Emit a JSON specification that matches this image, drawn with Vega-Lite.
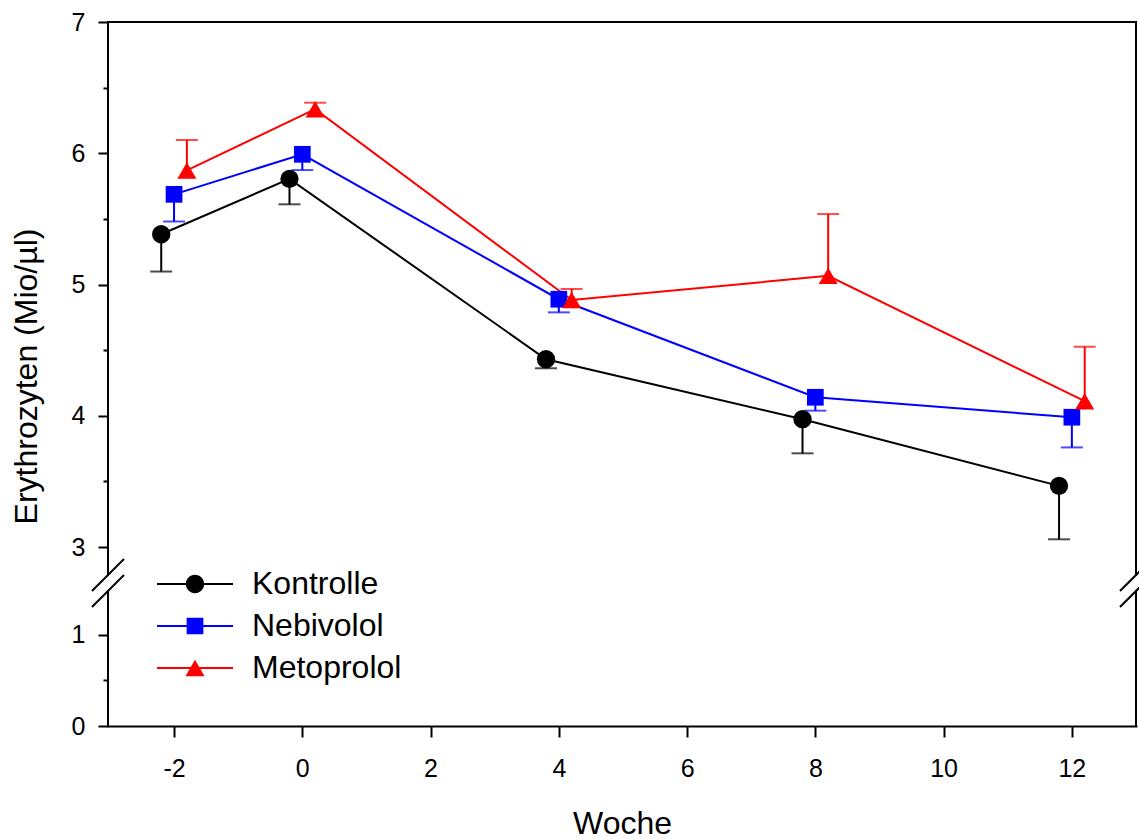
{
  "$schema": "https://vega.github.io/schema/vega-lite/v6.json",
  "width": 1028,
  "height": 704,
  "autosize": {"type": "none"},
  "padding": {"left": 108, "top": 22, "right": 3, "bottom": 113},
  "background": "white",
  "config": {
    "view": {"stroke": null},
    "font": "Liberation Sans",
    "axis": {"grid": false}
  },
  "data": {
    "values": [
      {"series": "Kontrolle", "x": -2.2, "value": 5.383, "bar_end": 5.099},
      {"series": "Kontrolle", "x": -0.2, "value": 5.805, "bar_end": 5.611},
      {"series": "Kontrolle", "x": 3.8, "value": 4.431, "bar_end": 4.362},
      {"series": "Kontrolle", "x": 7.8, "value": 3.974, "bar_end": 3.714},
      {"series": "Kontrolle", "x": 11.8, "value": 3.466, "bar_end": 3.059},
      {"series": "Nebivolol", "x": -2, "value": 5.687, "bar_end": 5.48},
      {"series": "Nebivolol", "x": 0, "value": 5.992, "bar_end": 5.872},
      {"series": "Nebivolol", "x": 4, "value": 4.888, "bar_end": 4.788},
      {"series": "Nebivolol", "x": 8, "value": 4.141, "bar_end": 4.039},
      {"series": "Nebivolol", "x": 12, "value": 3.989, "bar_end": 3.759},
      {"series": "Metoprolol", "x": -1.8, "value": 5.869, "bar_end": 6.101},
      {"series": "Metoprolol", "x": 0.2, "value": 6.336, "bar_end": 6.385},
      {"series": "Metoprolol", "x": 4.2, "value": 4.882, "bar_end": 4.966},
      {"series": "Metoprolol", "x": 8.2, "value": 5.066, "bar_end": 5.537},
      {"series": "Metoprolol", "x": 12.2, "value": 4.111, "bar_end": 4.526}
    ]
  },
  "layer": [
    {
      "mark": {"type": "point", "filled": true, "size": 5776, "clip": true, "opacity": 1},
      "encoding": {
        "x": {"field": "x", "type": "quantitative"},
        "y": {"datum": -100},
        "color": {
          "field": "series", "type": "nominal",
          "scale": {"domain": ["Kontrolle", "Nebivolol", "Metoprolol"], "range": ["#000000", "#0000ff", "#ff0000"]},
          "legend": {
            "orient": "none", "legendX": 49, "legendY": 541, "title": null,
            "symbolSize": 5776, "symbolStrokeWidth": 0, "symbolOpacity": 1,
            "labelFontSize": 32, "labelFont": "Liberation Sans", "labelColor": "black",
            "labelOffset": 19, "rowPadding": 0, "clipHeight": 42, "labelLimit": 0, "padding": 0
          }
        },
        "shape": {
          "field": "series", "type": "nominal",
          "scale": {
            "domain": ["Kontrolle", "Nebivolol", "Metoprolol"],
            "range": [
              "M-1,-0.0263H1V0.0263H-1Z M0.2408,0A0.2408,0.2408,0,1,1,-0.2408,0A0.2408,0.2408,0,1,1,0.2408,0Z",
              "M-1,-0.0263H1V0.0263H-1Z M-0.22,-0.22H0.22V0.22H-0.22Z",
              "M-1,-0.0263H1V0.0263H-1Z M0,-0.216L0.25,0.216L-0.25,0.216Z"
            ]
          },
          "legend": {
            "orient": "none", "legendX": 49, "legendY": 541, "title": null,
            "symbolSize": 5776, "symbolStrokeWidth": 0, "symbolOpacity": 1,
            "labelFontSize": 32, "labelFont": "Liberation Sans", "labelColor": "black",
            "labelOffset": 19, "rowPadding": 0, "clipHeight": 42, "labelLimit": 0, "padding": 0
          }
        }
      }
    },
    {
      "mark": {"type": "line", "strokeWidth": 2},
      "encoding": {
        "x": {
          "field": "x", "type": "quantitative",
          "scale": {"domain": [-3.03, 13], "nice": false, "zero": false},
          "axis": {
            "orient": "bottom",
            "values": [-2, 0, 2, 4, 6, 8, 10, 12],
            "labelExpr": "'' + datum.value",
            "domain": true, "domainColor": "black", "domainWidth": 2, "domainCap": "square",
            "ticks": true, "tickSize": 11, "tickWidth": 2, "tickColor": "black",
            "labelFontSize": 25, "labelColor": "black", "labelPadding": 19, "labelFont": "Liberation Sans",
            "title": "Woche", "titleFontSize": 32, "titleFontWeight": "normal", "titleColor": "black",
            "titleFont": "Liberation Sans", "titleY": 107, "titleBaseline": "alphabetic"
          }
        },
        "y": {
          "field": "value", "type": "quantitative",
          "scale": {"domain": [0, 1.4835, 2.787, 7], "range": [704, 569, 553, 0], "nice": false, "zero": false},
          "axis": {
            "orient": "left",
            "values": [0, 0.5, 1, 3, 3.5, 4, 4.5, 5, 5.5, 6, 6.5, 7],
            "labelExpr": "datum.value % 1 === 0 ? '' + datum.value : ''",
            "domain": false,
            "ticks": true,
            "tickSize": {"condition": {"test": "datum.value % 1 !== 0", "value": 5}, "value": 10},
            "tickWidth": 2, "tickColor": "black",
            "labelFontSize": 25, "labelColor": "black", "labelPadding": 13, "labelFont": "Liberation Sans",
            "title": "Erythrozyten (Mio/µl)", "titleFontSize": 32, "titleFontWeight": "normal",
            "titleColor": "black", "titleFont": "Liberation Sans",
            "titleX": -72, "titleY": 354, "titleBaseline": "alphabetic", "titleAngle": 270
          }
        },
        "color": {"field": "series", "type": "nominal", "legend": null}
      }
    },
    {
      "mark": {"type": "rule", "strokeWidth": 2},
      "encoding": {
        "x": {"field": "x", "type": "quantitative"},
        "y": {"field": "value", "type": "quantitative"},
        "y2": {"field": "bar_end"},
        "color": {"field": "series", "type": "nominal", "legend": null}
      }
    },
    {
      "mark": {"type": "tick", "orient": "horizontal", "size": 22, "thickness": 2},
      "encoding": {
        "x": {"field": "x", "type": "quantitative"},
        "y": {"field": "bar_end", "type": "quantitative"},
        "color": {"field": "series", "type": "nominal", "legend": null}
      }
    },
    {
      "transform": [{"filter": "datum.series === 'Kontrolle'"}],
      "mark": {"type": "point", "filled": true, "shape": "circle", "size": 335, "opacity": 1},
      "encoding": {
        "x": {"field": "x", "type": "quantitative"},
        "y": {"field": "value", "type": "quantitative"},
        "color": {"field": "series", "type": "nominal", "legend": null}
      }
    },
    {
      "transform": [{"filter": "datum.series === 'Nebivolol'"}],
      "mark": {"type": "point", "filled": true, "shape": "square", "size": 279, "opacity": 1},
      "encoding": {
        "x": {"field": "x", "type": "quantitative"},
        "y": {"field": "value", "type": "quantitative"},
        "color": {"field": "series", "type": "nominal", "legend": null}
      }
    },
    {
      "transform": [{"filter": "datum.series === 'Metoprolol'"}],
      "mark": {"type": "point", "filled": true, "shape": "triangle-up", "size": 361, "opacity": 1},
      "encoding": {
        "x": {"field": "x", "type": "quantitative"},
        "y": {"field": "value", "type": "quantitative"},
        "color": {"field": "series", "type": "nominal", "legend": null}
      }
    },
    {
      "data": {"values": [{}]},
      "mark": {"type": "rule", "strokeWidth": 2, "color": "black", "strokeCap": "square"},
      "encoding": {"x": {"datum": -3.03}, "y": {"datum": 2.787}, "y2": {"datum": 7}}
    },
    {
      "data": {"values": [{}]},
      "mark": {"type": "rule", "strokeWidth": 2, "color": "black", "strokeCap": "square"},
      "encoding": {"x": {"datum": -3.03}, "y": {"datum": 0}, "y2": {"datum": 1.4835}}
    },
    {
      "data": {"values": [{}]},
      "mark": {"type": "rule", "strokeWidth": 2, "color": "black", "strokeCap": "square"},
      "encoding": {"x": {"datum": 13}, "y": {"datum": 2.787}, "y2": {"datum": 7}}
    },
    {
      "data": {"values": [{}]},
      "mark": {"type": "rule", "strokeWidth": 2, "color": "black", "strokeCap": "square"},
      "encoding": {"x": {"datum": 13}, "y": {"datum": 0}, "y2": {"datum": 1.4835}}
    },
    {
      "data": {"values": [{}]},
      "mark": {"type": "rule", "strokeWidth": 2, "color": "black", "strokeCap": "square"},
      "encoding": {"x": {"datum": -3.03}, "x2": {"datum": 13}, "y": {"datum": 7}}
    },
    {
      "data": {"values": [{}]},
      "mark": {"type": "rule", "strokeWidth": 2, "color": "black"},
      "encoding": {"x": {"datum": -3.2795}, "x2": {"datum": -2.7805}, "y": {"datum": 1.4835}, "y2": {"datum": 2.909}}
    },
    {
      "data": {"values": [{}]},
      "mark": {"type": "rule", "strokeWidth": 2, "color": "black"},
      "encoding": {"x": {"datum": -3.2795}, "x2": {"datum": -2.7805}, "y": {"datum": 1.3077}, "y2": {"datum": 2.787}}
    },
    {
      "data": {"values": [{}]},
      "mark": {"type": "rule", "strokeWidth": 2, "color": "black"},
      "encoding": {"x": {"datum": 12.7505}, "x2": {"datum": 13.2495}, "y": {"datum": 1.4835}, "y2": {"datum": 2.909}}
    },
    {
      "data": {"values": [{}]},
      "mark": {"type": "rule", "strokeWidth": 2, "color": "black"},
      "encoding": {"x": {"datum": 12.7505}, "x2": {"datum": 13.2495}, "y": {"datum": 1.3077}, "y2": {"datum": 2.787}}
    }
  ]
}
